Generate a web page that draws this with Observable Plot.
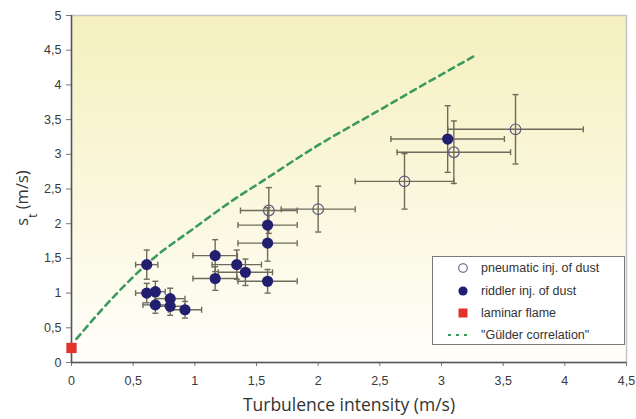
<!DOCTYPE html>
<html><head><meta charset="utf-8">
<script src="https://cdn.jsdelivr.net/npm/d3@7"></script>
<script src="https://cdn.jsdelivr.net/npm/@observablehq/plot@0.6"></script>
<style>
html,body{margin:0;padding:0;background:#fff;}
#wrap{position:relative;width:636px;height:419px;}
#legend{position:absolute;left:432px;top:256px;width:193px;height:89px;border:1px solid #7a7a7a;background:#fff;
  font-family:"Liberation Sans",Arial,sans-serif;font-size:12.5px;color:#333;box-sizing:border-box;}
#legend .row{position:absolute;left:0;height:20px;display:flex;align-items:center;}
#legend .row svg{width:42px;height:20px;display:block;}
#legend .row span{margin-left:6px;white-space:nowrap;}
</style></head><body><div id="wrap"></div>
<script>
// ---- data ----
const pneumaticX    = [1.60, 2.00, 2.70, 3.10, 3.60];
const pneumaticY    = [2.19, 2.21, 2.61, 3.03, 3.36];
const pneumaticXErr = [0.23, 0.30, 0.40, 0.46, 0.55];
const pneumaticYErr = [0.33, 0.33, 0.40, 0.45, 0.50];

const riddlerX    = [0.61, 0.61, 0.68, 0.68, 0.80, 0.80, 0.92, 1.165, 1.165, 1.34, 1.41, 1.59, 1.59, 1.59, 3.05];
const riddlerY    = [1.41, 1.00, 1.02, 0.83, 0.92, 0.81, 0.76, 1.54, 1.21, 1.41, 1.30, 1.98, 1.72, 1.17, 3.22];
const riddlerXErr = [0.09, 0.09, 0.08, 0.10, 0.12, 0.12, 0.135, 0.18, 0.18, 0.20, 0.22, 0.24, 0.24, 0.24, 0.46];
const riddlerYErr = [0.21, 0.14, 0.15, 0.12, 0.15, 0.13, 0.12, 0.23, 0.17, 0.21, 0.19, 0.25, 0.26, 0.17, 0.48];

const laminarX = [0];
const laminarY = [0.21];

const gulderX = [0.04, 0.37, 0.65, 0.99, 1.31, 1.51, 1.99, 2.53, 2.97, 3.29];
const gulderY = [0.34, 1.00, 1.48, 1.93, 2.34, 2.57, 3.12, 3.67, 4.12, 4.44];

const xTicks = [0, 0.5, 1, 1.5, 2, 2.5, 3, 3.5, 4, 4.5];
const yTicks = [0, 0.5, 1, 1.5, 2, 2.5, 3, 3.5, 4, 4.5, 5];

const legendLabels = ["pneumatic inj. of dust", "riddler inj. of dust", "laminar flame", "\"Gülder correlation\""];
const xTitle = "Turbulence intensity (m/s)";

// ---- build ----
const fmt = d => String(d).replace(".", ",");
const rows = (xs, ys, xe, ye) => xs.map((x, i) => ({x, y: ys[i], xlo: x - xe[i], xhi: x + xe[i], ylo: ys[i] - ye[i], yhi: ys[i] + ye[i]}));
const pneu = rows(pneumaticX, pneumaticY, pneumaticXErr, pneumaticYErr);
const ridd = rows(riddlerX, riddlerY, riddlerXErr, riddlerYErr);
const all = pneu.concat(ridd);
const gulder = gulderX.map((x, i) => ({x, y: gulderY[i]}));
const laminar = laminarX.map((x, i) => ({x, y: laminarY[i]}));

const capV = {draw(ctx) { ctx.moveTo(0, -3); ctx.lineTo(0, 3); }};
const capH = {draw(ctx) { ctx.moveTo(-3, 0); ctx.lineTo(3, 0); }};

const defs = () => {
  const g = d3.create("svg:defs");
  const lg = g.append("linearGradient").attr("id", "bg").attr("x1", 0).attr("y1", 0).attr("x2", 0).attr("y2", 1);
  lg.append("stop").attr("offset", "0%").attr("stop-color", "#f5f0be");
  lg.append("stop").attr("offset", "100%").attr("stop-color", "#fffefa");
  return g.node();
};

const errC = "#6f6b5c";
const plot = Plot.plot({
  width: 636, height: 419,
  marginLeft: 71, marginRight: 10, marginTop: 15, marginBottom: 57,
  style: {fontFamily: "'Liberation Sans', Arial, sans-serif", background: "#fff"},
  x: {domain: [0, 4.5]},
  y: {domain: [0, 5]},
  marks: [
    defs,
    Plot.frame({fill: "url(#bg)", stroke: "#c4c4c4", strokeWidth: 1.5}),
    Plot.axisX({ticks: xTicks, tickFormat: fmt, tickSize: 4, tickPadding: 10, fontSize: 12.5, label: null, stroke: "#777", fill: "#3a3a3a"}),
    Plot.axisY({ticks: yTicks, tickFormat: fmt, tickSize: 5, tickPadding: 5, fontSize: 12.5, label: null, stroke: "#777", fill: "#3a3a3a"}),
    Plot.ruleX([0], {stroke: "#555", strokeWidth: 1.5}),
    Plot.ruleY([0], {stroke: "#555", strokeWidth: 1.5}),
    Plot.line(gulder, {x: "x", y: "y", stroke: "#3c9a5e", strokeWidth: 2.6, strokeDasharray: "6,5", curve: "monotone-x"}),
    Plot.ruleY(all, {y: "y", x1: "xlo", x2: "xhi", stroke: errC, strokeWidth: 1.4}),
    Plot.ruleX(all, {x: "x", y1: "ylo", y2: "yhi", stroke: errC, strokeWidth: 1.4}),
    Plot.dot(all, {x: "xlo", y: "y", symbol: capV, stroke: errC, strokeWidth: 1.4}),
    Plot.dot(all, {x: "xhi", y: "y", symbol: capV, stroke: errC, strokeWidth: 1.4}),
    Plot.dot(all, {x: "x", y: "ylo", symbol: capH, stroke: errC, strokeWidth: 1.4}),
    Plot.dot(all, {x: "x", y: "yhi", symbol: capH, stroke: errC, strokeWidth: 1.4}),
    Plot.dot(pneu, {x: "x", y: "y", r: 5.3, stroke: "#5b5a7a", fill: "none", strokeWidth: 1.2}),
    Plot.dot(ridd, {x: "x", y: "y", r: 5.6, fill: "#221e70", stroke: "none"}),
    Plot.dot(laminar, {x: "x", y: "y", r: 5.8, symbol: "square", fill: "#e2322b", stroke: "none"})
  ]
});

const svg = d3.select(plot);
svg.append("text")
  .attr("x", 349).attr("y", 411).attr("text-anchor", "middle")
  .style("font-family", "'Open Sans', sans-serif").style("font-size", "17.5px").style("fill", "#333")
  .text(xTitle);
const yt = svg.append("text")
  .attr("transform", "translate(28,198) rotate(-90)").attr("text-anchor", "middle")
  .style("font-family", "'Open Sans', sans-serif").style("font-size", "16.5px").style("fill", "#333");
yt.append("tspan").text("s");
yt.append("tspan").attr("baseline-shift", "sub").style("font-size", "12px").text("t");
yt.append("tspan").text(" (m/s)");

const wrap = document.getElementById("wrap");
wrap.appendChild(plot);

const legend = document.createElement("div");
legend.id = "legend";
const sym = [
  '<circle cx="30" cy="10" r="4.3" fill="#fff" stroke="#5b5a7a" stroke-width="1.1"/>',
  '<circle cx="30" cy="10" r="4.6" fill="#221e70"/>',
  '<rect x="25.5" y="5.5" width="9" height="9" fill="#e2322b"/>',
  '<line x1="15" y1="10" x2="38" y2="10" stroke="#3c9a5e" stroke-width="2" stroke-dasharray="3,5"/>'
];
const tops = [1, 24, 46, 68];
legendLabels.forEach((t, i) => {
  const r = document.createElement("div");
  r.className = "row";
  r.style.top = tops[i] + "px";
  r.innerHTML = '<svg viewBox="0 0 42 20">' + sym[i] + '</svg><span></span>';
  r.querySelector("span").textContent = t;
  legend.appendChild(r);
});
wrap.appendChild(legend);
</script>
</body></html>
